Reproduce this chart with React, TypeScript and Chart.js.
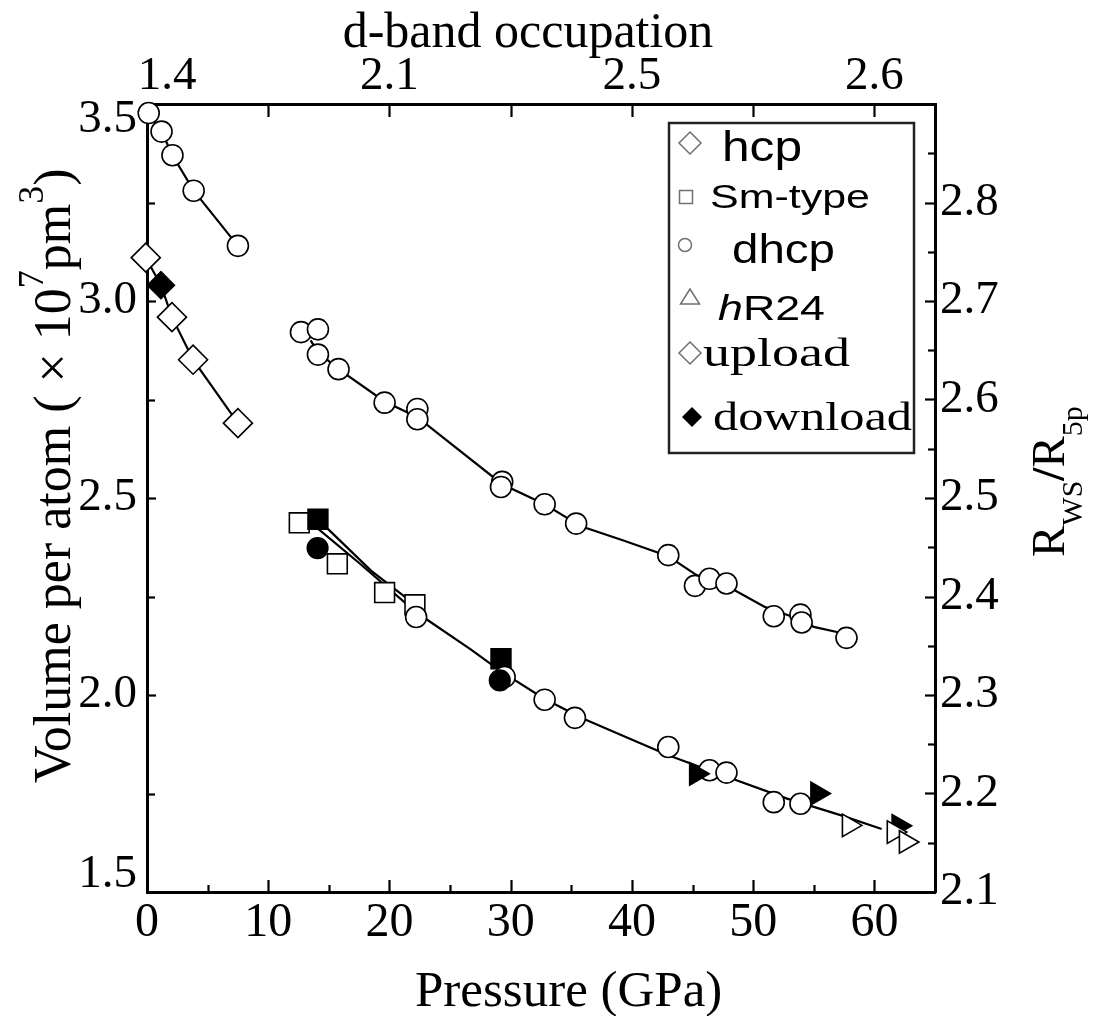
import React, { useEffect, useRef } from 'react';
import { Chart, registerables } from 'chart.js';

Chart.register(...registerables);

// ---------------- data (pressure GPa, volume ×10^7 pm^3) ----------------
const hcpUpload = [[-0.1, 3.11], [2.06, 2.959], [3.8, 2.851], [7.5, 2.69]];
const hcpDownload = [[1.15, 3.04]];
const dhcpUpload = [
  [0.14, 3.477], [1.2, 3.43], [2.1, 3.37], [3.85, 3.28], [7.5, 3.14],
  [12.7, 2.921], [14.1, 2.928], [14.1, 2.864], [15.8, 2.827], [19.6, 2.742],
  [22.3, 2.726], [22.3, 2.70], [29.3, 2.541], [29.2, 2.528], [32.8, 2.484],
  [35.4, 2.435], [43.0, 2.355], [45.2, 2.277], [46.4, 2.295], [47.8, 2.283],
  [51.7, 2.2], [53.9, 2.204], [54.0, 2.184], [57.7, 2.145],
  [22.2, 2.198], [29.5, 2.046], [32.8, 1.988], [35.3, 1.942], [43.0, 1.868],
  [46.4, 1.809], [47.8, 1.803], [51.7, 1.728], [53.9, 1.724],
];
const dhcpDownload = [[14.07, 2.373], [29.1, 2.037]];
const smUpload = [[12.56, 2.437], [15.7, 2.333], [19.6, 2.26], [22.1, 2.229]];
const smDownload = [[14.1, 2.446], [29.2, 2.092]];
const hr24Upload = [[57.9, 1.669], [61.6, 1.652], [62.6, 1.627]];
const hr24Download = [[45.3, 1.8], [55.3, 1.75], [62.0, 1.668]];

// guide curves
const hcpCurve = [[-0.1, 3.11], [1.15, 3.04], [2.06, 2.959], [3.8, 2.851], [7.5, 2.69]];
const dhcpLowPCurve = [[0.14, 3.477], [1.2, 3.43], [2.1, 3.37], [3.85, 3.28], [7.5, 3.14]];
const dhcpHighPCurve = [
  [13.5, 2.9], [14.1, 2.87], [15.8, 2.827], [19.6, 2.745], [22.3, 2.705], [29.3, 2.535],
  [32.8, 2.484], [35.8, 2.428], [39.3, 2.392], [43.0, 2.352], [45.3, 2.305], [48.4, 2.267],
  [51.0, 2.223], [53.3, 2.198], [55.0, 2.173], [56.9, 2.16], [57.7, 2.145],
];
const lowerCurveA = [
  [13.8, 2.43], [17.5, 2.335], [22.2, 2.21], [26.7, 2.116], [29.2, 2.06], [32.8, 1.99],
  [36.0, 1.94], [39.3, 1.896], [43.0, 1.847], [46.8, 1.804], [52.8, 1.737], [57.2, 1.695], [60.6, 1.66],
];
const lowerCurveB = [[14.3, 2.44], [18.5, 2.315], [22.0, 2.232]];

// ---------------- ticks ----------------
const pressureTicks = [0, 10, 20, 30, 40, 50, 60];
const pressureTickLabels = ['0', '10', '20', '30', '40', '50', '60'];
const pressureMinorMarks = [5, 15, 25, 35, 45, 55];
const dBandTickPositions = [1.65, 20, 40, 60];
const dBandTickLabels = ['1.4', '2.1', '2.5', '2.6'];
const dBandMarks = [10, 20, 30, 40, 50, 60];
const volumeTicks = [1.5, 2.0, 2.5, 3.0, 3.5];
const volumeTickLabels = ['1.5', '2.0', '2.5', '3.0', '3.5'];
const volumeMinorMarks = [1.75, 2.25, 2.75, 3.25];
const ratioTicks = [2.1, 2.2, 2.3, 2.4, 2.5, 2.6, 2.7, 2.8];
const ratioTickLabels = ['2.1', '2.2', '2.3', '2.4', '2.5', '2.6', '2.7', '2.8'];
const ratioMinorMarks = [2.15, 2.25, 2.35, 2.45, 2.55, 2.65, 2.75, 2.85];

const legendLabels = ['hcp', 'Sm-type', 'dhcp', 'hR24', 'upload', 'download'];

const SERIF = '"Liberation Serif", "Times New Roman", serif';
const SANS = '"Liberation Sans", Arial, sans-serif';

const toXY = (arr: number[][]) => arr.map(([x, y]) => ({ x, y }));

const markers = (label: string, data: number[][], style: string, filled: boolean, radius: number, order: number, rotation = 0) => ({
  label,
  data: toXY(data),
  showLine: false,
  pointStyle: style,
  pointRadius: radius,
  pointHoverRadius: radius,
  pointRotation: rotation,
  pointBackgroundColor: filled ? '#000' : '#fff',
  pointBorderColor: '#000',
  pointBorderWidth: 1.6,
  order,
  clip: false as any,
});

const curve = (label: string, data: number[][]) => ({
  label,
  data: toXY(data),
  showLine: true,
  borderColor: '#000',
  borderWidth: 2.2,
  pointRadius: 0,
  pointHoverRadius: 0,
  fill: false,
  tension: 0,
  order: 100,
  clip: false as any,
});

// inward tick marks
const innerTicksPlugin = {
  id: 'innerTicks',
  afterDraw(chart: any) {
    const { ctx, chartArea: a, scales } = chart;
    ctx.save();
    ctx.strokeStyle = '#000';
    ctx.lineWidth = 2.2;
    const v = (scale: any, vals: number[], y0: number, dir: number, len: number) => {
      vals.forEach((val) => {
        const p = Math.round(scale.getPixelForValue(val)) + 0.5;
        ctx.beginPath();
        ctx.moveTo(p, y0);
        ctx.lineTo(p, y0 + dir * len);
        ctx.stroke();
      });
    };
    const h = (scale: any, vals: number[], x0: number, dir: number, len: number) => {
      vals.forEach((val) => {
        const p = Math.round(scale.getPixelForValue(val)) + 0.5;
        ctx.beginPath();
        ctx.moveTo(x0, p);
        ctx.lineTo(x0 + dir * len, p);
        ctx.stroke();
      });
    };
    v(scales.x, pressureTicks.filter((t) => t > 0), a.bottom, -1, 12);
    v(scales.x, pressureMinorMarks, a.bottom, -1, 7);
    v(scales.x2, dBandMarks, a.top, 1, 13);
    h(scales.y, volumeTicks.filter((t, i) => i > 0 && i < volumeTicks.length - 1), a.left, 1, 9);
    h(scales.y, volumeMinorMarks, a.left, 1, 8);
    h(scales.y2, ratioTicks.filter((t) => t > 2.1), a.right, -1, 10);
    h(scales.y2, ratioMinorMarks, a.right, -1, 7);
    ctx.restore();
  },
};

const segText = (ctx: any, parts: { t: string; f: string; dy: number }[]) => {
  let x = 0;
  parts.forEach((p) => {
    ctx.font = p.f;
    ctx.fillText(p.t, x, p.dy);
    x += ctx.measureText(p.t).width;
  });
};

const titlesPlugin = {
  id: 'titles',
  afterDraw(chart: any) {
    const ctx = chart.ctx;
    ctx.save();
    ctx.fillStyle = '#000';
    ctx.textBaseline = 'alphabetic';
    // bottom
    ctx.font = `51px ${SERIF}`;
    ctx.textAlign = 'left';
    ctx.fillText('Pressure (GPa)', 415, 1006);
    // top
    ctx.font = `50px ${SERIF}`;
    ctx.textAlign = 'center';
    ctx.fillText('d-band occupation', 528, 47);
    ctx.textAlign = 'left';
    // left
    ctx.save();
    ctx.translate(70, 783);
    ctx.rotate(-Math.PI / 2);
    const main = `52px ${SERIF}`;
    const sup = `36px ${SERIF}`;
    segText(ctx, [
      { t: 'Volume per atom ( × 10', f: main, dy: 0 },
      { t: '7', f: sup, dy: -27 },
      { t: 'pm', f: main, dy: 0 },
      { t: '3', f: sup, dy: -27 },
      { t: ')', f: main, dy: 0 },
    ]);
    ctx.restore();
    // right
    ctx.save();
    ctx.translate(1064, 557);
    ctx.rotate(-Math.PI / 2);
    const rMain = `47px ${SERIF}`;
    const rSub = `30px ${SERIF}`;
    segText(ctx, [
      { t: 'R', f: rMain, dy: 0 },
      { t: 'WS', f: rSub, dy: 18 },
      { t: '/', f: `bold 47px ${SERIF}`, dy: 0 },
      { t: 'R', f: rMain, dy: 0 },
      { t: '5p', f: rSub, dy: 18 },
    ]);
    ctx.restore();
    ctx.restore();
  },
};

const legendPlugin = {
  id: 'customLegend',
  afterDraw(chart: any) {
    const ctx = chart.ctx;
    ctx.save();
    ctx.fillStyle = '#fff';
    ctx.fillRect(669, 123, 245, 330);
    ctx.strokeStyle = '#222';
    ctx.lineWidth = 2.5;
    ctx.strokeRect(669, 123, 245, 330);

    const gray = '#707070';
    const diamond = (x: number, y: number, r: number, filled: boolean) => {
      ctx.beginPath();
      ctx.moveTo(x, y - r);
      ctx.lineTo(x + r, y);
      ctx.lineTo(x, y + r);
      ctx.lineTo(x - r, y);
      ctx.closePath();
      if (filled) { ctx.fillStyle = '#000'; ctx.fill(); }
      else { ctx.strokeStyle = gray; ctx.lineWidth = 1.5; ctx.stroke(); }
    };
    ctx.strokeStyle = gray;
    ctx.lineWidth = 1.5;
    diamond(690, 143, 11, false);
    ctx.strokeRect(679.5, 190.5, 13, 13);
    ctx.beginPath();
    ctx.arc(685, 245, 6.5, 0, Math.PI * 2);
    ctx.stroke();
    ctx.beginPath();
    ctx.moveTo(690, 289);
    ctx.lineTo(699.5, 304);
    ctx.lineTo(680.5, 304);
    ctx.closePath();
    ctx.stroke();
    diamond(690, 353, 11, false);
    diamond(692, 417, 10, true);

    ctx.fillStyle = '#000';
    ctx.textBaseline = 'alphabetic';
    ctx.textAlign = 'left';
    const stretched = (parts: { t: string; f: string }[], x: number, y: number, w: number) => {
      let total = 0;
      parts.forEach((p) => { ctx.font = p.f; total += ctx.measureText(p.t).width; });
      ctx.save();
      ctx.translate(x, y);
      ctx.scale(w / total, 1);
      let cx = 0;
      parts.forEach((p) => { ctx.font = p.f; ctx.fillText(p.t, cx, 0); cx += ctx.measureText(p.t).width; });
      ctx.restore();
    };
    stretched([{ t: legendLabels[0], f: `43px ${SANS}` }], 722, 161, 80);
    stretched([{ t: legendLabels[1], f: `34px ${SANS}` }], 710, 208, 160);
    stretched([{ t: legendLabels[2], f: `40px ${SANS}` }], 732, 263, 103);
    stretched([
      { t: legendLabels[3].slice(0, 1), f: `italic 35px ${SANS}` },
      { t: legendLabels[3].slice(1), f: `35px ${SANS}` },
    ], 718, 320, 107);
    stretched([{ t: legendLabels[4], f: `39px ${SERIF}` }], 703, 366, 147);
    stretched([{ t: legendLabels[5], f: `39px ${SERIF}` }], 713, 430, 199);
    ctx.restore();
  },
};

const tickFont = (size: number) => ({ family: SERIF, size, lineHeight: 1 });
const noGrid = { display: false, drawTicks: false };
const frame = { display: true, color: '#000', width: 3 };

export default function App() {
  const ref = useRef<HTMLCanvasElement | null>(null);

  useEffect(() => {
    if (!ref.current) return;
    const chart = new Chart(ref.current, {
      type: 'scatter',
      data: {
        datasets: [
          markers('hR24 upload', hr24Upload, 'triangle', false, 13, 10, 90),
          markers('hR24 download', hr24Download, 'triangle', true, 13, 20, 90),
          markers('hcp download', hcpDownload, 'rectRot', true, 13.5, 25),
          markers('hcp upload', hcpUpload, 'rectRot', false, 14.5, 30),
          markers('dhcp download', dhcpDownload, 'circle', true, 10.3, 35),
          markers('dhcp upload', dhcpUpload, 'circle', false, 10.5, 40),
          markers('Sm-type download', smDownload, 'rect', true, 14, 45),
          markers('Sm-type upload', smUpload, 'rect', false, 14, 50),
          curve('hcp fit', hcpCurve),
          curve('dhcp fit (low P)', dhcpLowPCurve),
          curve('dhcp fit (high P)', dhcpHighPCurve),
          curve('lower fit A', lowerCurveA),
          curve('lower fit B', lowerCurveB),
        ] as any,
      },
      options: {
        responsive: false,
        devicePixelRatio: 1,
        animation: false,
        events: [],
        layout: { padding: 0 },
        plugins: { legend: { display: false }, tooltip: { enabled: false } },
        scales: {
          x: {
            type: 'linear', position: 'bottom', min: 0, max: 65, z: 1,
            afterBuildTicks: (s: any) => { s.ticks = pressureTicks.map((value) => ({ value })); },
            afterFit: (s: any) => { s.height = 124; },
            ticks: {
              autoSkip: false, maxRotation: 0, minRotation: 0, padding: 7, color: '#000', font: tickFont(48),
              callback: (_v: any, i: number) => pressureTickLabels[i],
            },
            grid: noGrid, border: frame, title: { display: false },
          },
          x2: {
            type: 'linear', position: 'top', min: 0, max: 65, z: 1,
            afterBuildTicks: (s: any) => { s.ticks = dBandTickPositions.map((value) => ({ value })); },
            afterFit: (s: any) => { s.height = 104; },
            ticks: {
              autoSkip: false, maxRotation: 0, minRotation: 0, padding: 4, color: '#000', font: tickFont(47),
              callback: (_v: any, i: number) => dBandTickLabels[i],
            },
            grid: noGrid, border: frame, title: { display: false },
          },
          y: {
            type: 'linear', position: 'left', min: 1.5, max: 3.5, z: 1,
            afterBuildTicks: (s: any) => {
              const last = volumeTicks.length - 1;
              s.ticks = volumeTicks.map((value, i) => ({ value: value + (i === 0 ? 0.043 : i === last ? -0.041 : 0) }));
            },
            afterFit: (s: any) => { s.width = 147; },
            ticks: {
              autoSkip: false, padding: 10, color: '#000', font: tickFont(47),
              callback: (_v: any, i: number) => volumeTickLabels[i],
            },
            grid: noGrid, border: frame, title: { display: false },
          },
          y2: {
            type: 'linear', position: 'right', min: 2.1, max: 2.9, z: 1,
            afterBuildTicks: (s: any) => { s.ticks = ratioTicks.map((value) => ({ value })); },
            afterFit: (s: any) => { s.width = 168; },
            ticks: {
              autoSkip: false, padding: 5, color: '#000', font: tickFont(47),
              callback: (_v: any, i: number) => ratioTickLabels[i],
            },
            grid: noGrid, border: frame, title: { display: false },
          },
        },
      } as any,
      plugins: [innerTicksPlugin, titlesPlugin, legendPlugin],
    });
    return () => chart.destroy();
  }, []);

  return (
    <div style={{ position: 'fixed', left: 0, top: 0, width: 1103, height: 1016, background: '#fff' }}>
      <canvas ref={ref} width={1103} height={1016} style={{ display: 'block', width: 1103, height: 1016 }} />
    </div>
  );
}
